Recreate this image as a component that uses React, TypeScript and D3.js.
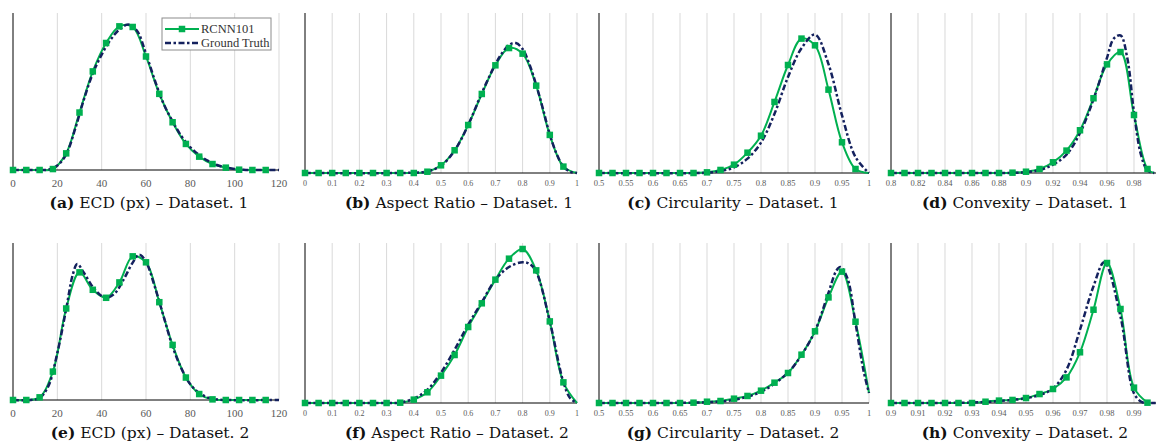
import React from 'react';
import * as d3 from 'd3';

// colours
const GREEN = '#00b050';
const NAVY = '#14215e';

// tick values
const ecdTicks = [0, 20, 40, 60, 80, 100, 120];
const aspectTicks = [0, 0.1, 0.2, 0.3, 0.4, 0.5, 0.6, 0.7, 0.8, 0.9, 1];
const circTicks = [0.5, 0.55, 0.6, 0.65, 0.7, 0.75, 0.8, 0.85, 0.9, 0.95, 1];
const conv1Ticks = [0.8, 0.82, 0.84, 0.86, 0.88, 0.9, 0.92, 0.94, 0.96, 0.98];
const conv2Ticks = [0.9, 0.91, 0.92, 0.93, 0.94, 0.95, 0.96, 0.97, 0.98, 0.99];

// ECD (px)
const ecdMarkX = [0, 6, 12, 18, 24, 30, 36, 42, 48, 54, 60, 66, 72, 78, 84, 90, 96, 102, 108, 114];
const ecd1Rcnn = [0, 0, 0, 0.006, 0.106, 0.366, 0.628, 0.809, 0.915, 0.911, 0.723, 0.485, 0.304, 0.166, 0.085, 0.038, 0.015, 0.002, 0, 0];
const ecd1TruthX = [0, 8, 12, 16, 20, 24, 28, 32, 36, 40, 44, 48, 52, 56, 60, 64, 68, 72, 76, 80, 84, 88, 92, 96, 100, 104, 108, 120];
const ecd1Truth = [0, 0, 0, 0.002, 0.028, 0.1, 0.26, 0.45, 0.615, 0.735, 0.83, 0.895, 0.926, 0.885, 0.74, 0.57, 0.42, 0.31, 0.215, 0.145, 0.095, 0.058, 0.032, 0.016, 0.007, 0.002, 0, 0];
const ecd2Rcnn = [0, 0, 0.017, 0.181, 0.583, 0.813, 0.702, 0.651, 0.749, 0.915, 0.877, 0.623, 0.351, 0.143, 0.038, 0.004, 0, 0, 0, 0];
const ecd2TruthX = [0, 8, 12, 16, 20, 24, 27, 29, 32, 36, 40, 42, 46, 50, 54, 57, 60, 64, 68, 72, 76, 80, 84, 88, 92, 96, 120];
const ecd2Truth = [0, 0, 0.012, 0.09, 0.3, 0.58, 0.8, 0.866, 0.81, 0.72, 0.662, 0.649, 0.68, 0.77, 0.875, 0.926, 0.88, 0.72, 0.53, 0.34, 0.2, 0.1, 0.045, 0.015, 0.004, 0, 0];

// Aspect ratio
const aspectMarkX = [0, 0.05, 0.1, 0.15, 0.2, 0.25, 0.3, 0.35, 0.4, 0.45, 0.5, 0.55, 0.6, 0.65, 0.7, 0.75, 0.8, 0.85, 0.9, 0.95, 1];
const aspect1Rcnn = [0, 0, 0, 0, 0, 0, 0, 0, 0, 0.008, 0.048, 0.142, 0.3, 0.494, 0.673, 0.781, 0.746, 0.546, 0.238, 0.04, 0];
const aspect1TruthX = [0, 0.4, 0.45, 0.5, 0.55, 0.6, 0.65, 0.7, 0.725, 0.75, 0.775, 0.8, 0.825, 0.85, 0.875, 0.9, 0.925, 0.95, 0.975, 1];
const aspect1Truth = [0, 0.002, 0.01, 0.045, 0.14, 0.3, 0.5, 0.68, 0.75, 0.8, 0.812, 0.775, 0.68, 0.55, 0.4, 0.24, 0.12, 0.04, 0.008, 0];
const aspect2Rcnn = [0, 0, 0, 0, 0, 0, 0, 0.002, 0.021, 0.067, 0.171, 0.3, 0.475, 0.623, 0.771, 0.902, 0.9625, 0.829, 0.51, 0.129, 0];
const aspect2TruthX = [0, 0.3, 0.35, 0.4, 0.45, 0.5, 0.55, 0.6, 0.65, 0.7, 0.75, 0.8, 0.825, 0.85, 0.9, 0.95, 0.975, 1];
const aspect2Truth = [0, 0, 0.003, 0.028, 0.083, 0.19, 0.333, 0.49, 0.63, 0.77, 0.85, 0.88, 0.87, 0.82, 0.51, 0.13, 0.03, 0];

// Circularity
const circMarkX = [0.5, 0.525, 0.55, 0.575, 0.6, 0.625, 0.65, 0.675, 0.7, 0.725, 0.75, 0.775, 0.8, 0.825, 0.85, 0.875, 0.9, 0.925, 0.95, 0.975, 1];
const circ1Rcnn = [0, 0, 0, 0, 0, 0, 0, 0, 0.004, 0.019, 0.052, 0.127, 0.233, 0.444, 0.675, 0.84, 0.798, 0.521, 0.192, 0.025, 0];
const circ1TruthX = [0.5, 0.7, 0.725, 0.75, 0.775, 0.8, 0.825, 0.85, 0.875, 0.9, 0.925, 0.95, 0.975, 1];
const circ1Truth = [0, 0.002, 0.012, 0.035, 0.09, 0.19, 0.37, 0.6, 0.78, 0.865, 0.68, 0.36, 0.1, 0];
const circ2Rcnn = [0, 0, 0, 0, 0, 0, 0, 0.002, 0.008, 0.0125, 0.027, 0.044, 0.077, 0.127, 0.1875, 0.302, 0.448, 0.66, 0.821, 0.508, 0.0625];
const circ2TruthX = [0.5, 0.7, 0.75, 0.8, 0.85, 0.875, 0.9, 0.925, 0.94, 0.947, 0.96, 0.975, 0.99, 1];
const circ2Truth = [0, 0.005, 0.02, 0.07, 0.19, 0.3, 0.45, 0.69, 0.83, 0.85, 0.78, 0.5, 0.2, 0.0625];

// Convexity
const conv1MarkX = [0.8, 0.81, 0.82, 0.83, 0.84, 0.85, 0.86, 0.87, 0.88, 0.89, 0.9, 0.91, 0.92, 0.93, 0.94, 0.95, 0.96, 0.97, 0.98, 0.99, 0.995];
const conv1Rcnn = [0, 0, 0, 0, 0, 0, 0, 0, 0, 0.002, 0.008, 0.025, 0.067, 0.14, 0.267, 0.467, 0.679, 0.756, 0.3625, 0.025, 0];
const conv1TruthX = [0.8, 0.89, 0.9, 0.91, 0.92, 0.93, 0.94, 0.95, 0.96, 0.965, 0.97, 0.975, 0.98, 0.985, 0.99, 0.995];
const conv1Truth = [0, 0.001, 0.005, 0.018, 0.052, 0.115, 0.25, 0.46, 0.72, 0.84, 0.86, 0.72, 0.38, 0.12, 0.015, 0];
const conv2MarkX = [0.9, 0.905, 0.91, 0.915, 0.92, 0.925, 0.93, 0.935, 0.94, 0.945, 0.95, 0.955, 0.96, 0.965, 0.97, 0.975, 0.98, 0.985, 0.99, 0.995];
const conv2Rcnn = [0, 0, 0, 0, 0, 0, 0, 0.008, 0.015, 0.019, 0.031, 0.056, 0.0875, 0.16, 0.317, 0.583, 0.875, 0.5875, 0.096, 0.002];
const conv2TruthX = [0.9, 0.93, 0.94, 0.95, 0.955, 0.96, 0.965, 0.97, 0.975, 0.979, 0.985, 0.99, 0.993, 0.995, 0.998];
const conv2Truth = [0, 0.003, 0.012, 0.03, 0.05, 0.09, 0.208, 0.458, 0.73, 0.88, 0.54, 0.06, 0.005, 0, 0];

const panels = [
	{ tag: '(a)', title: 'ECD (px) – Dataset. 1', domain: [0, 120], ticks: ecdTicks, x0: 13, x1: 279, y0: 13, y1: 170, tickY: 187, font: 11, capX: 149, capY: 208, rx: ecdMarkX, ry: ecd1Rcnn, tx: ecd1TruthX, ty: ecd1Truth, markN: 20, legend: true },
	{ tag: '(b)', title: 'Aspect Ratio – Dataset. 1', domain: [0, 1], ticks: aspectTicks, x0: 305, x1: 577, y0: 13, y1: 173, tickY: 186, font: 8, capX: 459, capY: 208, rx: aspectMarkX, ry: aspect1Rcnn, tx: aspect1TruthX, ty: aspect1Truth, markN: 20 },
	{ tag: '(c)', title: 'Circularity – Dataset. 1', domain: [0.5, 1], ticks: circTicks, x0: 599, x1: 869, y0: 13, y1: 173, tickY: 186, font: 8.5, capX: 733, capY: 208, rx: circMarkX, ry: circ1Rcnn, tx: circ1TruthX, ty: circ1Truth, markN: 20 },
	{ tag: '(d)', title: 'Convexity – Dataset. 1', domain: [0.8, 0.9963], ticks: conv1Ticks, x0: 891, x1: 1156, y0: 13, y1: 173, tickY: 186, font: 8.5, capX: 1025, capY: 208, rx: conv1MarkX, ry: conv1Rcnn, tx: conv1TruthX, ty: conv1Truth, markN: 20 },
	{ tag: '(e)', title: 'ECD (px) – Dataset. 2', domain: [0, 120], ticks: ecdTicks, x0: 13, x1: 279, y0: 243, y1: 400, tickY: 417, font: 11, capX: 150, capY: 438, rx: ecdMarkX, ry: ecd2Rcnn, tx: ecd2TruthX, ty: ecd2Truth, markN: 20 },
	{ tag: '(f)', title: 'Aspect Ratio – Dataset. 2', domain: [0, 1], ticks: aspectTicks, x0: 305, x1: 577, y0: 243, y1: 403, tickY: 416, font: 8, capX: 457, capY: 438, rx: aspectMarkX, ry: aspect2Rcnn, tx: aspect2TruthX, ty: aspect2Truth, markN: 20 },
	{ tag: '(g)', title: 'Circularity – Dataset. 2', domain: [0.5, 1], ticks: circTicks, x0: 599, x1: 869, y0: 243, y1: 403, tickY: 416, font: 8.5, capX: 733, capY: 438, rx: circMarkX, ry: circ2Rcnn, tx: circ2TruthX, ty: circ2Truth, markN: 20 },
	{ tag: '(h)', title: 'Convexity – Dataset. 2', domain: [0.9, 0.99815], ticks: conv2Ticks, x0: 891, x1: 1156, y0: 243, y1: 403, tickY: 416, font: 8.5, capX: 1025, capY: 438, rx: conv2MarkX, ry: conv2Rcnn, tx: conv2TruthX, ty: conv2Truth, markN: 20 },
];

function Panel({ p }: { p: any }) {
	const x = d3.scaleLinear().domain(p.domain).range([p.x0, p.x1]);
	const y = d3.scaleLinear().domain([0, 1]).range([p.y1, p.y0]);
	const line = d3
		.line<[number, number]>()
		.x((d) => x(d[0]))
		.y((d) => Math.min(p.y1, y(d[1])))
		.curve(d3.curveCatmullRom.alpha(0.5));
	const rcnn = p.rx.map((v: number, i: number) => [v, p.ry[i]]);
	const truth = p.tx.map((v: number, i: number) => [v, p.ty[i]]);
	const xEnd = x(p.domain[1]);
	return (
		<g>
			{p.ticks.slice(1).map((t: number) => (
				<line key={t} x1={x(t)} x2={x(t)} y1={p.y0} y2={p.y1} stroke="#d9d9d9" strokeWidth={1} />
			))}
			<line x1={p.x0} x2={xEnd} y1={p.y1} y2={p.y1} stroke="#000" strokeWidth={1} />
			<line x1={p.x0} x2={p.x0} y1={p.y0} y2={p.y1} stroke="#000" strokeWidth={1} />
			<path d={line(rcnn) || ''} fill="none" stroke={GREEN} strokeWidth={2} />
			<path d={line(truth) || ''} fill="none" stroke={NAVY} strokeWidth={2.5} strokeDasharray="6,2.5,2.5,2.5" />
			{rcnn.slice(0, p.markN).map((d: number[], i: number) => (
				<rect key={i} x={x(d[0]) - 3.25} y={y(d[1]) - 3.25} width={6.5} height={6.5} fill={GREEN} />
			))}
			{p.ticks.map((t: number) => (
				<text key={'t' + t} x={x(t)} y={p.tickY} fontSize={p.font} fill="#595959" textAnchor="middle" fontFamily="'Liberation Serif', serif">
					{String(t)}
				</text>
			))}
			<text x={p.capX} y={p.capY} fontSize={15.5} textAnchor="middle" fill="#111" fontFamily="'DejaVu Serif', serif">
				<tspan fontWeight="bold">{p.tag}</tspan> {p.title}
			</text>
			{p.legend && (
				<g>
					<rect x={162} y={18} width={109} height={32} fill="#fff" stroke="#8c8c8c" strokeWidth={1} />
					<line x1={165} x2={199} y1={29} y2={29} stroke={GREEN} strokeWidth={2} />
					<rect x={178.75} y={25.75} width={6.5} height={6.5} fill={GREEN} />
					<line x1={165} x2={199} y1={43} y2={43} stroke={NAVY} strokeWidth={2.5} strokeDasharray="6,2.5,2.5,2.5" />
					<text x={201} y={33} fontSize={12.5} fill="#333" fontFamily="'Liberation Serif', serif">RCNN101</text>
					<text x={201} y={47} fontSize={12.5} fill="#333" fontFamily="'Liberation Serif', serif">Ground Truth</text>
				</g>
			)}
		</g>
	);
}

export default function App() {
	return (
		<svg width={1157} height={446} style={{ position: 'absolute', left: 0, top: 0, background: '#fff' }}>
			{panels.map((p) => (
				<Panel key={p.tag} p={p} />
			))}
		</svg>
	);
}
